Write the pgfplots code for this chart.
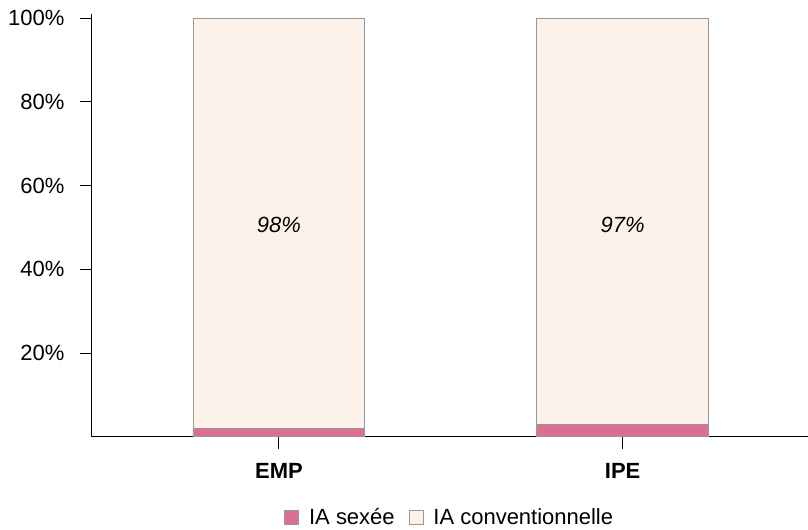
\documentclass[border=0pt]{standalone}
\usepackage{fontspec}
\setmainfont{Liberation Sans}
\usepackage{pgfplots}
\pgfplotsset{compat=1.18}
\definecolor{sexee}{HTML}{DC6E92}
\definecolor{conv}{HTML}{FDF2E9}
\definecolor{edge}{HTML}{999999}

\begin{document}
\begin{tikzpicture}
\begin{axis}[
    name=ax,
    scale only axis,
    width=716bp, height=423bp,
    xmin=-0.544, xmax=1.538,
    ymin=0, ymax=101,
    ybar stacked,
    bar width=0.5,
    axis x line=bottom, axis y line=left,
    axis line style={-, line width=0.9bp},
    xtick=data,
    xticklabels={\textbf{EMP},\textbf{IPE}},
    ytick={20,40,60,80,100},
    yticklabel={\pgfmathprintnumber{\tick}\%},
    /pgf/number format/assume math mode=true,
    tick align=outside,
    major tick length=12bp,
    tick style={black, line width=0.9bp},
    ticklabel style={font=\fontsize{22bp}{26bp}\selectfont},
    yticklabel style={xshift=-12bp},
    xticklabel style={yshift=-11bp},
    clip=false,
    legend columns=2,
    legend style={draw=none, at={(0.5,-0.19)}, anchor=center,
        font=\fontsize{22bp}{26bp}\selectfont,
        /tikz/every odd column/.append style={column sep=8bp},
        /tikz/every even column/.append style={column sep=12bp}},
    legend image code/.code={\draw[#1, draw=edge, line width=0.8bp] (0bp,-7bp) rectangle (14bp,7bp);},
]
\addplot[fill=sexee, draw=edge, line width=0.8bp] coordinates {(0,2) (1,3)};
\addlegendentry{IA sexée}
\addplot[fill=conv, draw=edge, line width=0.8bp] coordinates {(0,98) (1,97)};
\addlegendentry{IA conventionnelle}
\coordinate (l0) at (axis cs:0,50.5);
\coordinate (l1) at (axis cs:1,50.5);
\draw[line width=0.9bp] (rel axis cs:0,0) -- ++(-12bp,0);
\end{axis}
\node[font=\fontsize{22bp}{26bp}\selectfont\itshape] at (l0) {98\%};
\node[font=\fontsize{22bp}{26bp}\selectfont\itshape] at (l1) {97\%};
\path[use as bounding box] ([xshift=-92bp,yshift=-90bp]ax.south west) rectangle ([yshift=14bp]ax.north east);
\end{tikzpicture}
\end{document}
